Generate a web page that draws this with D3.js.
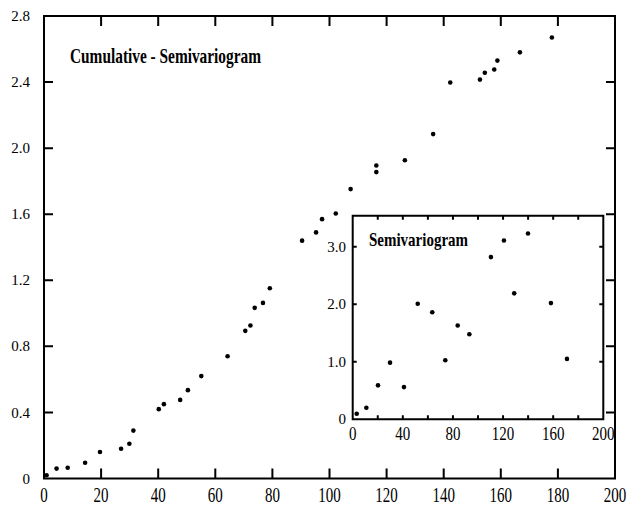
<!DOCTYPE html>
<html>
<head>
<meta charset="utf-8">
<script src="https://cdn.jsdelivr.net/npm/d3@7/dist/d3.min.js"></script>
<style>
html,body{margin:0;padding:0;background:#fff;}
svg{display:block;}
text{font-family:"Liberation Serif","Times New Roman",serif;fill:#000;}
</style>
</head>
<body>
<svg id="chart" width="629" height="507"></svg>
<script>
// ---- Data ----
const cumLag = [0.9,4.4,8.3,14.4,19.6,27,29.9,31.3,40.2,42,47.7,50.4,55.1,64.3,70.5,72.3,73.8,76.7,79.1,
  90.4,95.3,97.4,102.2,107.4,116.4,116.4,126.4,136.3,142.3,152.7,154.4,157.7,158.8,166.7,177.9];
const cumValue = [0.02,0.06,0.065,0.095,0.16,0.18,0.21,0.29,0.42,0.45,0.476,0.535,0.62,0.74,0.894,0.926,1.033,1.063,1.152,
  1.44,1.49,1.57,1.604,1.752,1.855,1.895,1.927,2.085,2.397,2.415,2.456,2.476,2.53,2.58,2.67];
const semiLag = [3.2,10.9,20.2,29.8,40.9,51.9,63.5,73.9,83.8,93.1,110.3,120.7,128.9,139.9,158.2,171];
const semiValue = [0.097,0.2,0.59,0.985,0.56,2.01,1.86,1.026,1.63,1.48,2.82,3.11,2.19,3.23,2.02,1.05];
const mainXTicks = [0,20,40,60,80,100,120,140,160,180,200];
const mainYTicks = [0,0.4,0.8,1.2,1.6,2.0,2.4,2.8];
const mainYLabels = ["0","0.4","0.8","1.2","1.6","2.0","2.4","2.8"];
const insetXTicks = [0,20,40,60,80,100,120,140,160,180,200];
const insetXLabelTicks = [0,40,80,120,160,200];
const insetYTicks = [1,2,3];
const insetYLabelTicks = [0,1,2,3];
const insetYLabels = ["0","1.0","2.0","3.0"];
const mainTitle = "Cumulative - Semivariogram";
const insetTitle = "Semivariogram";

const svg = d3.select("#chart");

// frame + inward ticks in a single path
function framePath(box, xs, ys, xv, yv, lx, ly){
  const p = d3.path();
  p.rect(box.left, box.top, box.right - box.left, box.bottom - box.top);
  xv.forEach(function(d){
    const px = xs(d);
    p.moveTo(px, box.bottom); p.lineTo(px, box.bottom - lx);
    p.moveTo(px, box.top); p.lineTo(px, box.top + lx);
  });
  yv.forEach(function(d){
    const py = ys(d);
    p.moveTo(box.left, py); p.lineTo(box.left + ly, py);
    p.moveTo(box.right, py); p.lineTo(box.right - ly, py);
  });
  return svg.append("path").attr("d", p.toString()).attr("fill","none")
    .attr("stroke","#000").attr("stroke-width",2);
}

// ---- Main chart ----
const M = {left:44, right:615, top:16, bottom:478.5};
const xS = d3.scaleLinear().domain([0,200]).range([M.left, M.right]);
const yS = d3.scaleLinear().domain([0,2.8]).range([M.bottom, M.top]);

const innerX = mainXTicks.filter((d,i)=> i>0 && i<mainXTicks.length-1);
const innerY = mainYTicks.filter((d,i)=> i>0 && i<mainYTicks.length-1);

mainXTicks.forEach(function(d){
  svg.append("text").attr("transform","translate(" + xS(d) + ",502) scale(1,1.35)")
    .attr("text-anchor","middle").attr("font-size",15).text(d);
});
mainYTicks.forEach(function(d,i){
  svg.append("text").attr("x",30).attr("y",yS(d)).attr("dy","0.34em")
    .attr("text-anchor","end").attr("font-size",15).text(mainYLabels[i]);
});

svg.append("text").attr("transform","translate(70,62.5) scale(1,1.3)")
  .attr("font-size",15.5).attr("font-weight","bold")
  .attr("textLength",191).attr("lengthAdjust","spacingAndGlyphs")
  .text(mainTitle);

cumLag.forEach(function(d,i){
  svg.append("circle").attr("cx",xS(d)).attr("cy",yS(cumValue[i])).attr("r",2.3).attr("fill","#000");
});

// ---- Inset ----
const I = {left:352.7, right:603.3, top:215.7, bottom:419.3};
const ix = d3.scaleLinear().domain([0,200]).range([I.left, I.right]);
const iy = d3.scaleLinear().domain([0,3.54]).range([I.bottom, I.top]);

svg.append("rect").attr("x",I.left).attr("y",I.top)
  .attr("width",I.right-I.left).attr("height",I.bottom-I.top)
  .attr("fill","#fff");

const iInnerX = insetXTicks.filter((d,i)=> i>0 && i<insetXTicks.length-1);

insetXLabelTicks.forEach(function(d){
  svg.append("text").attr("transform","translate(" + ix(d) + ",440) scale(1,1.2)")
    .attr("text-anchor","middle").attr("font-size",15).text(d);
});
insetYLabelTicks.forEach(function(d,i){
  svg.append("text").attr("x",346).attr("y",iy(d)).attr("dy","0.34em")
    .attr("text-anchor","end").attr("font-size",15).text(insetYLabels[i]);
});

svg.append("text").attr("transform","translate(369,245.5) scale(1,1.2)")
  .attr("font-size",15).attr("font-weight","bold")
  .attr("textLength",99).attr("lengthAdjust","spacingAndGlyphs")
  .text(insetTitle);

semiLag.forEach(function(d,i){
  svg.append("circle").attr("cx",ix(d)).attr("cy",iy(semiValue[i])).attr("r",2.3).attr("fill","#000");
});

// frames with ticks drawn last, on top of everything
framePath(M, xS, yS, innerX, innerY, 10, 9);
framePath(I, ix, iy, iInnerX, insetYTicks, 4, 4);
</script>
</body>
</html>
